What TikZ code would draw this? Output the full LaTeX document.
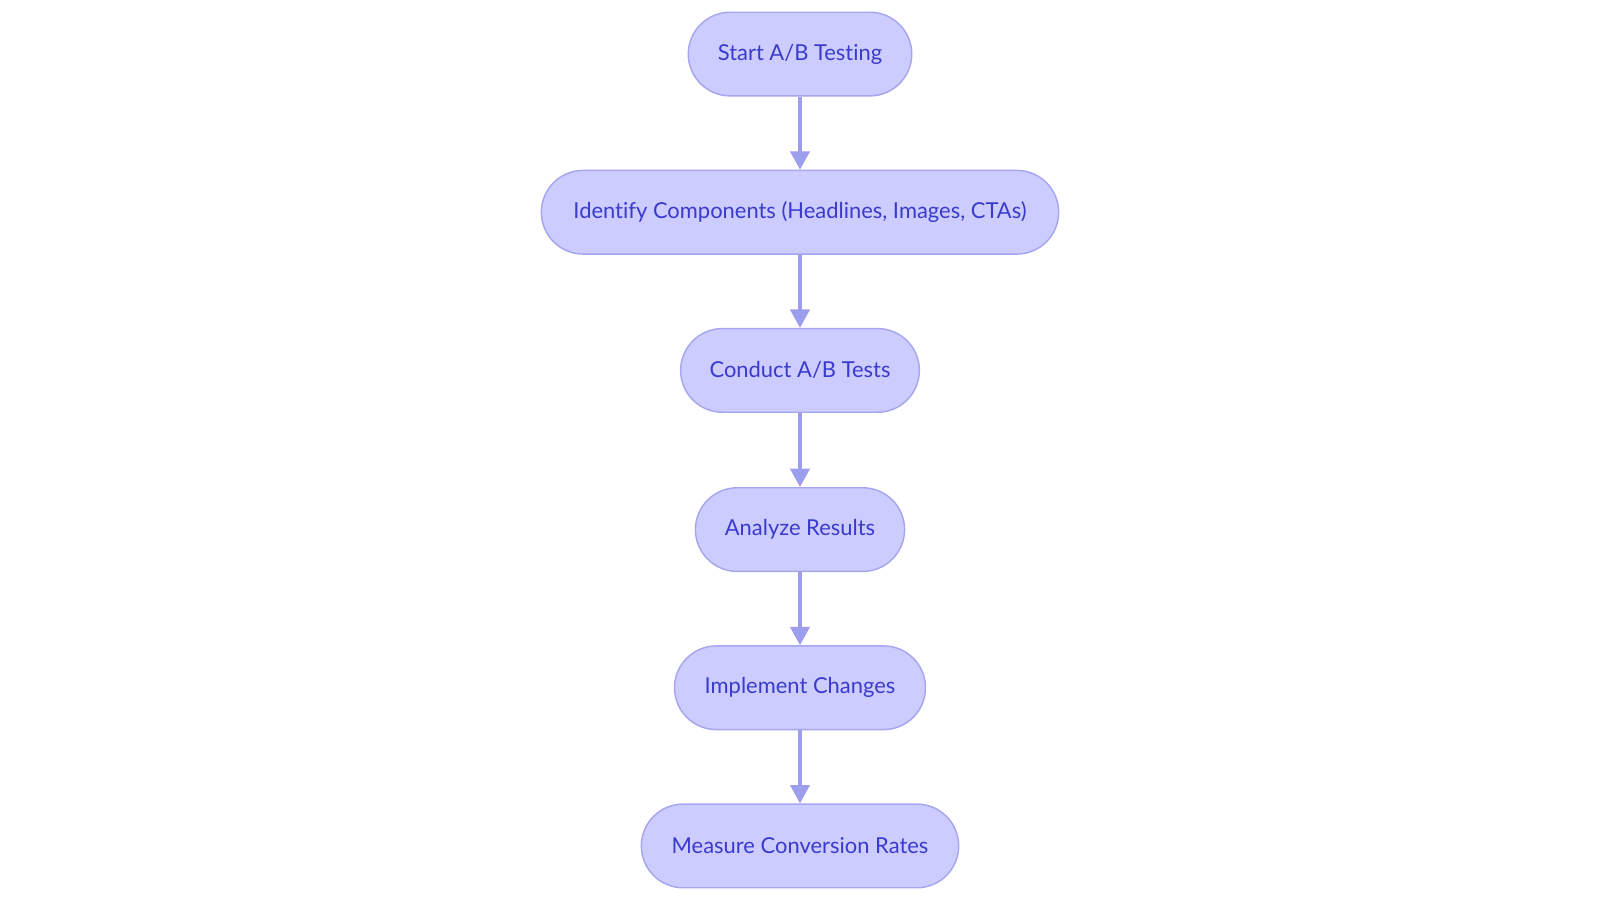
\documentclass[tikz,border=0pt]{standalone}
\usepackage{fontspec}
\setmainfont[Ligatures={NoCommon,NoRare}]{Lato}
\usetikzlibrary{arrows.meta}
\definecolor{nodefill}{RGB}{204,204,255}
\definecolor{nodeline}{RGB}{165,165,240}
\definecolor{nodetext}{RGB}{58,58,205}
\definecolor{edgecol}{RGB}{158,158,238}
\tikzset{
  stage/.style={draw=nodeline, fill=nodefill, line width=1.4pt, rounded corners=41pt,
    minimum height=82pt, inner sep=0pt, text=nodetext, font=\fontsize{21.5}{26}\selectfont},
  flow/.style={draw=edgecol, line width=3pt, -{Triangle[length=18pt,width=19pt]}}
}
\begin{document}
\begin{tikzpicture}[x=1pt,y=-1pt]
\useasboundingbox (0,0) rectangle (1568,885);
\node[stage, minimum width=219pt] (n1) at (784,53) {Start A/B Testing};
\node[stage, minimum width=507pt] (n2) at (784,208) {Identify Components (Headlines, Images, CTAs)};
\node[stage, minimum width=234pt] (n3) at (784,363) {Conduct A/B Tests};
\node[stage, minimum width=205pt] (n4) at (784,519) {Analyze Results};
\node[stage, minimum width=246pt] (n5) at (784,674) {Implement Changes};
\node[stage, minimum width=311pt] (n6) at (784,829) {Measure Conversion Rates};
\draw[flow] (n1) -- (n2);
\draw[flow] (n2) -- (n3);
\draw[flow] (n3) -- (n4);
\draw[flow] (n4) -- (n5);
\draw[flow] (n5) -- (n6);
\end{tikzpicture}
\end{document}
